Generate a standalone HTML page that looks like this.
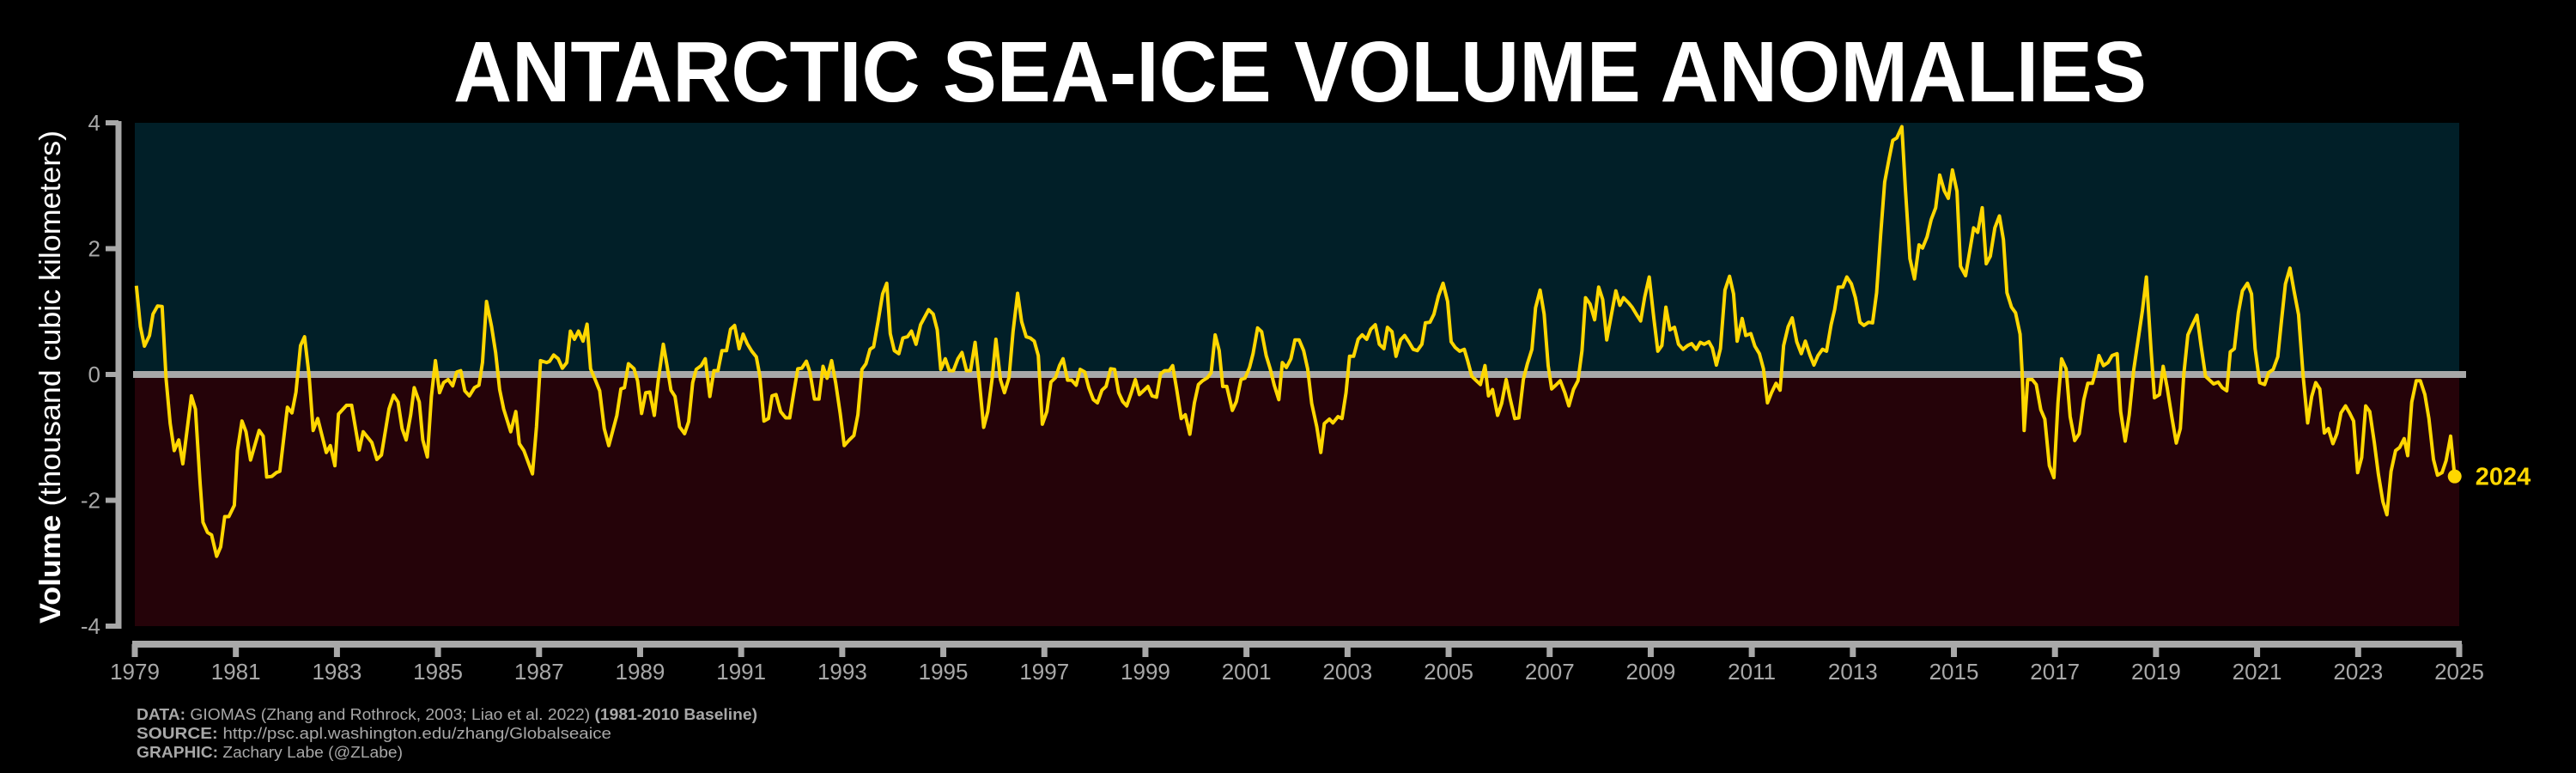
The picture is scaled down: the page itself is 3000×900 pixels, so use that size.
<!DOCTYPE html>
<html><head><meta charset="utf-8"><title>Antarctic Sea-Ice Volume Anomalies</title>
<style>
html,body{margin:0;padding:0;background:#000;}
svg{display:block;font-family:"Liberation Sans",sans-serif;}
</style></head>
<body>
<svg id="chart" width="3000" height="900" viewBox="0 0 3000 900">
<rect x="0" y="0" width="3000" height="900" fill="#000"/>
<text x="1514" y="118" font-size="100" font-weight="bold" fill="#fff" text-anchor="middle" textLength="1972" lengthAdjust="spacingAndGlyphs">ANTARCTIC SEA-ICE VOLUME ANOMALIES</text>
<g id="plot"></g>
<text transform="translate(70,439) rotate(-90)" font-size="34" fill="#fff" text-anchor="middle" textLength="574" lengthAdjust="spacingAndGlyphs"><tspan font-weight="bold">Volume</tspan> (thousand cubic kilometers)</text>
<g fill="#a8a8a8" font-size="18">
<text x="159" y="838" textLength="723" lengthAdjust="spacingAndGlyphs"><tspan font-weight="bold">DATA:</tspan> GIOMAS (Zhang and Rothrock, 2003; Liao et al. 2022) <tspan font-weight="bold">(1981-2010 Baseline)</tspan></text>
<text x="159" y="860" textLength="553" lengthAdjust="spacingAndGlyphs"><tspan font-weight="bold">SOURCE:</tspan> http://psc.apl.washington.edu/zhang/Globalseaice</text>
<text x="159" y="882" textLength="310" lengthAdjust="spacingAndGlyphs"><tspan font-weight="bold">GRAPHIC:</tspan> Zachary Labe (@ZLabe)</text>
</g>
</svg>
<script>
const years = [1979.03,1979.11,1979.19,1979.29,1979.36,1979.45,1979.54,1979.62,1979.70,1979.78,1979.87,1979.95,1980.12,1980.20,1980.29,1980.35,1980.44,1980.52,1980.62,1980.70,1980.78,1980.86,1980.97,1981.03,1981.12,1981.20,1981.29,1981.46,1981.54,1981.61,1981.71,1981.80,1981.87,1982.02,1982.11,1982.19,1982.28,1982.36,1982.45,1982.53,1982.62,1982.79,1982.87,1982.96,1983.03,1983.19,1983.29,1983.44,1983.52,1983.69,1983.79,1983.88,1984.03,1984.12,1984.21,1984.29,1984.37,1984.46,1984.53,1984.63,1984.70,1984.79,1984.87,1984.95,1985.03,1985.11,1985.20,1985.29,1985.37,1985.45,1985.53,1985.62,1985.72,1985.81,1985.88,1985.96,1986.06,1986.14,1986.22,1986.30,1986.44,1986.54,1986.61,1986.70,1986.87,
1986.95,1987.03,1987.15,1987.21,1987.29,1987.38,1987.46,1987.55,1987.62,1987.70,1987.78,1987.87,1987.95,1988.02,1988.11,1988.20,1988.29,1988.38,1988.54,1988.62,1988.69,1988.77,1988.88,1988.95,1989.03,1989.11,1989.19,1989.28,1989.36,1989.46,1989.53,1989.61,1989.69,1989.78,1989.88,1989.96,1990.04,1990.11,1990.21,1990.29,1990.38,1990.46,1990.54,1990.62,1990.71,1990.79,1990.87,1990.96,1991.04,1991.12,1991.21,1991.30,1991.37,1991.45,1991.54,1991.61,1991.69,1991.78,1991.88,1991.96,1992.04,1992.12,1992.20,1992.29,1992.36,1992.45,1992.54,1992.62,1992.70,1992.79,1992.87,1992.96,1993.04,1993.14,1993.23,1993.31,1993.39,1993.47,1993.55,1993.62,1993.71,1993.80,1993.88,1993.95,1994.03,1994.12,1994.20,1994.29,1994.37,
1994.46,1994.55,1994.71,1994.80,1994.88,1994.95,1995.04,1995.12,1995.20,1995.29,1995.37,1995.46,1995.54,1995.63,1995.71,1995.80,1995.88,1995.97,1996.04,1996.13,1996.21,1996.30,1996.38,1996.47,1996.55,1996.64,1996.72,1996.80,1996.88,1996.96,1997.05,1997.13,1997.22,1997.30,1997.37,1997.46,1997.54,1997.63,1997.71,1997.80,1997.88,1997.97,1998.05,1998.14,1998.22,1998.31,1998.39,1998.47,1998.55,1998.63,1998.72,1998.80,1998.88,1998.96,1999.05,1999.13,1999.22,1999.30,1999.38,1999.47,1999.54,1999.62,1999.71,1999.79,1999.88,1999.97,2000.05,2000.13,2000.23,2000.30,2000.38,2000.46,2000.53,2000.61,2000.72,2000.80,2000.89,2000.97,2001.06,2001.13,2001.22,2001.30,2001.39,2001.47,2001.55,2001.64,2001.71,2001.79,2001.88,2001.96,2002.04,2002.13,2002.21,2002.29,2002.39,2002.47,
2002.54,2002.64,2002.71,2002.81,2002.89,2002.97,2003.04,2003.12,2003.21,2003.29,2003.38,2003.46,2003.55,2003.63,2003.72,2003.79,2003.88,2003.96,2004.05,2004.13,2004.21,2004.30,2004.38,2004.47,2004.54,2004.63,2004.71,2004.80,2004.89,2004.98,2005.05,2005.13,2005.22,2005.31,2005.38,2005.46,2005.55,2005.63,2005.72,2005.79,2005.87,2005.97,2006.05,2006.14,2006.22,2006.31,2006.39,2006.48,2006.56,2006.65,2006.72,2006.81,2006.89,2006.97,2007.04,2007.12,2007.21,2007.30,2007.38,2007.47,2007.56,2007.64,2007.71,2007.80,2007.89,2007.97,2008.05,2008.13,2008.22,2008.31,2008.39,2008.46,2008.56,2008.63,2008.72,2008.80,2008.88,2008.97,2009.06,2009.14,2009.22,2009.30,2009.38,2009.47,2009.55,2009.64,2009.73,2009.81,2009.90,
2009.98,2010.06,2010.15,2010.22,2010.30,2010.38,2010.47,2010.56,2010.64,2010.71,2010.81,2010.88,2010.98,2011.06,2011.15,2011.23,2011.31,2011.39,2011.48,2011.56,2011.63,2011.72,2011.80,2011.89,2011.98,2012.06,2012.15,2012.23,2012.31,2012.40,2012.48,2012.57,2012.64,2012.71,2012.80,2012.88,2012.97,2013.05,2013.14,2013.22,2013.31,2013.39,2013.47,2013.55,2013.63,2013.72,2013.79,2013.87,2013.97,2014.04,2014.13,2014.22,2014.31,2014.38,2014.47,2014.55,2014.64,2014.72,2014.81,2014.89,2014.97,2015.06,2015.13,2015.23,2015.31,2015.39,2015.47,2015.56,2015.64,2015.72,2015.81,2015.90,2015.98,2016.05,2016.14,2016.22,2016.31,2016.35,2016.39,2016.46,2016.55,2016.63,2016.72,2016.80,2016.89,2016.98,2017.06,2017.13,2017.22,2017.30,2017.39,2017.48,2017.57,2017.65,2017.74,
2017.81,2017.87,2017.96,2018.05,2018.13,2018.23,2018.30,2018.39,2018.47,2018.56,2018.64,2018.73,2018.81,2018.90,2018.97,2019.07,2019.14,2019.22,2019.31,2019.40,2019.48,2019.55,2019.63,2019.72,2019.81,2019.89,2019.98,2020.06,2020.14,2020.23,2020.31,2020.40,2020.47,2020.55,2020.63,2020.71,2020.81,2020.89,2020.96,2021.05,2021.15,2021.23,2021.32,2021.41,2021.48,2021.56,2021.65,2021.73,2021.82,2021.91,2022.00,2022.08,2022.16,2022.24,2022.33,2022.41,2022.50,2022.58,2022.66,2022.75,2022.83,2022.91,2022.99,2023.07,2023.15,2023.23,2023.32,2023.40,2023.49,2023.57,2023.65,2023.74,2023.82,2023.91,2023.98,2024.06,2024.15,2024.23,2024.32,2024.40,2024.49,2024.57,2024.66,2024.74,2024.83,2024.91];
const values = [1.41,0.76,0.45,0.62,0.96,1.09,1.08,-0.08,-0.78,-1.21,-1.04,-1.42,-0.34,-0.55,-1.70,-2.35,-2.51,-2.55,-2.89,-2.74,-2.26,-2.26,-2.08,-1.21,-0.74,-0.91,-1.36,-0.89,-0.98,-1.63,-1.62,-1.56,-1.54,-0.52,-0.61,-0.28,0.46,0.60,-0.02,-0.89,-0.70,-1.24,-1.13,-1.45,-0.63,-0.49,-0.49,-1.20,-0.91,-1.08,-1.35,-1.28,-0.55,-0.33,-0.44,-0.86,-1.04,-0.64,-0.21,-0.44,-1.04,-1.31,-0.35,0.22,-0.29,-0.13,-0.08,-0.18,0.04,0.06,-0.26,-0.34,-0.21,-0.17,0.19,1.16,0.76,0.35,-0.24,-0.55,-0.91,-0.59,-1.10,-1.21,-1.58,
-0.83,0.22,0.19,0.21,0.31,0.25,0.10,0.19,0.69,0.56,0.69,0.53,0.80,0.09,-0.08,-0.26,-0.86,-1.13,-0.65,-0.23,-0.21,0.17,0.09,-0.10,-0.62,-0.29,-0.28,-0.65,-0.08,0.48,0.15,-0.25,-0.35,-0.83,-0.94,-0.75,-0.13,0.08,0.14,0.25,-0.35,0.06,0.06,0.38,0.38,0.72,0.78,0.41,0.64,0.49,0.37,0.28,-0.02,-0.74,-0.70,-0.34,-0.32,-0.59,-0.69,-0.69,-0.29,0.09,0.10,0.21,0.04,-0.39,-0.39,0.13,-0.06,0.22,-0.13,-0.62,-1.13,-1.04,-0.97,-0.64,0.08,0.17,0.40,0.44,0.85,1.28,1.45,0.65,0.38,0.33,0.58,0.60,0.69,
0.48,0.79,1.03,0.96,0.71,0.08,0.25,0.06,0.06,0.25,0.35,0.06,0.06,0.51,-0.08,-0.84,-0.59,-0.05,0.56,-0.08,-0.29,-0.05,0.68,1.29,0.84,0.60,0.58,0.53,0.30,-0.79,-0.59,-0.12,-0.05,0.14,0.25,-0.09,-0.09,-0.17,0.08,0.04,-0.21,-0.40,-0.45,-0.25,-0.19,0.09,0.08,-0.29,-0.43,-0.50,-0.29,-0.08,-0.32,-0.26,-0.19,-0.34,-0.36,0.01,0.06,0.06,0.14,-0.24,-0.70,-0.64,-0.95,-0.45,-0.16,-0.10,-0.05,0.03,0.63,0.38,-0.19,-0.19,-0.57,-0.43,-0.08,-0.06,0.11,0.33,0.74,0.68,0.30,0.09,-0.17,-0.40,0.19,0.11,0.25,0.55,0.55,0.38,0.09,-0.46,-0.83,-1.24,
-0.78,-0.71,-0.77,-0.67,-0.70,-0.29,0.29,0.29,0.56,0.63,0.56,0.72,0.79,0.48,0.41,0.75,0.68,0.29,0.55,0.62,0.52,0.40,0.38,0.48,0.82,0.83,0.96,1.25,1.45,1.16,0.52,0.43,0.37,0.40,0.21,-0.03,-0.10,-0.16,0.14,-0.34,-0.24,-0.65,-0.46,-0.08,-0.39,-0.70,-0.69,-0.08,0.17,0.40,1.06,1.34,0.96,0.14,-0.23,-0.17,-0.10,-0.29,-0.50,-0.24,-0.10,0.38,1.22,1.12,0.87,1.39,1.19,0.55,0.94,1.33,1.10,1.22,1.14,1.07,0.95,0.85,1.23,1.55,0.90,0.37,0.46,1.07,0.71,0.75,0.48,0.40,0.46,0.49,0.40,
0.51,0.48,0.52,0.42,0.15,0.41,1.34,1.56,1.28,0.53,0.89,0.62,0.65,0.45,0.33,0.09,-0.45,-0.29,-0.14,-0.25,0.46,0.76,0.90,0.52,0.33,0.53,0.31,0.15,0.30,0.40,0.37,0.79,1.03,1.39,1.39,1.55,1.44,1.22,0.83,0.78,0.83,0.82,1.30,2.22,3.06,3.44,3.72,3.76,3.94,2.95,1.84,1.52,2.06,2.01,2.19,2.46,2.65,3.17,2.92,2.80,3.25,2.91,1.72,1.57,1.95,2.33,2.26,2.65,1.76,1.88,2.33,2.52,2.14,1.30,1.07,0.98,0.64,0.03,-0.89,-0.08,-0.08,-0.16,-0.56,-0.71,-1.45,-1.64,-0.45,0.25,0.09,-0.67,-1.05,-0.94,-0.40,-0.14,-0.14,
0.06,0.30,0.14,0.19,0.30,0.33,-0.59,-1.06,-0.64,0.08,0.52,1.01,1.55,0.41,-0.37,-0.32,0.13,-0.21,-0.67,-1.09,-0.86,0.01,0.63,0.79,0.94,0.46,-0.03,-0.09,-0.15,-0.12,-0.21,-0.26,0.36,0.41,0.98,1.33,1.45,1.28,0.41,-0.13,-0.16,0.03,0.08,0.28,0.84,1.44,1.69,1.33,0.95,-0.02,-0.77,-0.35,-0.13,-0.23,-0.93,-0.86,-1.10,-0.94,-0.61,-0.50,-0.61,-0.74,-1.56,-1.32,-0.50,-0.59,-1.08,-1.58,-2.02,-2.23,-1.54,-1.21,-1.16,-1.02,-1.29,-0.44,-0.10,-0.10,-0.32,-0.70,-1.35,-1.60,-1.56,-1.37,-0.98,-1.62];
const yTicks = [-4,-2,0,2,4];
const xTicks = [1979,1981,1983,1985,1987,1989,1991,1993,1995,1997,1999,2001,2003,2005,2007,2009,2011,2013,2015,2017,2019,2021,2023,2025];
const lastLabel = "2024";

const NS = "http://www.w3.org/2000/svg";
const X0 = 157, X1 = 2864, Y0 = 729, Y1 = 143;
function xs(t){ return X0 + (t - 1979) * (X1 - X0) / 46; }
function ys(v){ return Y0 - (v + 4) * (Y0 - Y1) / 8; }
function mk(tag, attrs, parent){
  const e = document.createElementNS(NS, tag);
  for (const k in attrs) e.setAttribute(k, attrs[k]);
  parent.appendChild(e);
  return e;
}
const plot = document.getElementById('plot');

const posRegion = mk('rect', {x: X0, y: Y1, width: X1 - X0, height: ys(0) - Y1, fill: '#011f28'}, plot);


const negRegion = mk('rect', {x: X0, y: ys(0), width: X1 - X0, height: Y0 - ys(0), fill: '#250309'}, plot);



const zl = mk('line', {x1: 155, x2: 2872, y1: ys(0), y2: ys(0), stroke: '#a8a8a8', 'stroke-width': 8}, plot);



const ya = mk('line', {x1: 138, x2: 138, y1: Y1 - 2, y2: Y0 + 3, stroke: '#a8a8a8', 'stroke-width': 7}, plot);


yTicks.forEach(v => {
  const t = mk('line', {x1: 123, x2: 138, y1: ys(v), y2: ys(v), stroke: '#a8a8a8', 'stroke-width': 6}, plot);
  
  
  const l = mk('text', {x: 117, y: ys(v) + 9, 'font-size': 26, fill: '#a8a8a8', 'text-anchor': 'end'}, plot);
  l.textContent = String(v);
  
  
});

const xa = mk('line', {x1: X0 - 3, x2: X1 + 3, y1: 750, y2: 750, stroke: '#a8a8a8', 'stroke-width': 8}, plot);


xTicks.forEach(yr => {
  const t = mk('line', {x1: xs(yr), x2: xs(yr), y1: 750, y2: 765, stroke: '#a8a8a8', 'stroke-width': 7}, plot);
  
  
  const l = mk('text', {x: xs(yr), y: 791, 'font-size': 26, fill: '#a8a8a8', 'text-anchor': 'middle'}, plot);
  l.textContent = String(yr);
  
  
});

let d = '';
for (let i = 0; i < years.length; i++) d += (i ? 'L' : 'M') + xs(years[i]).toFixed(1) + ',' + ys(values[i]).toFixed(1);
const seriesLine = mk('path', {d: d, fill: 'none', stroke: '#ffd700', 'stroke-width': 4, 'stroke-linejoin': 'round'}, plot);



const n = years.length - 1;
const dot = mk('circle', {cx: xs(years[n]), cy: ys(values[n]), r: 8, fill: '#ffd700'}, plot);


const lab = mk('text', {x: xs(years[n]) + 24, y: ys(values[n]) + 10, 'font-size': 29, 'font-weight': 'bold', fill: '#ffd700'}, plot);
lab.textContent = lastLabel;


</script>
</body></html>
